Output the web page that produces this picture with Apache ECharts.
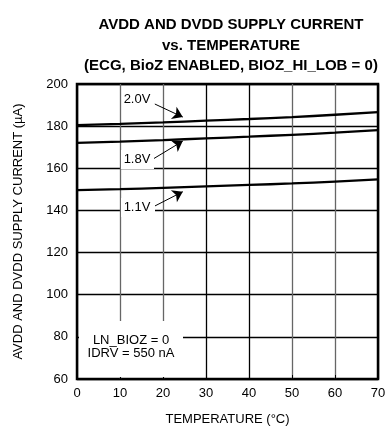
<!DOCTYPE html>
<html>
<head>
<meta charset="utf-8">
<script src="https://cdn.jsdelivr.net/npm/echarts@6/dist/echarts.min.js"></script>
<style>
  html, body { margin: 0; padding: 0; background: #fff; }
  #main { width: 390px; height: 432px; }
</style>
</head>
<body>
<div id="main"></div>
<script>
const temps = [0, 10, 20, 30, 40, 50, 60, 70];
const i20V = [180.5, 181.1, 181.8, 182.6, 183.4, 184.3, 185.4, 186.7];
const i18V = [172.1, 172.7, 173.4, 174.2, 175.0, 175.9, 176.9, 178.1];
const i11V = [149.6, 150.1, 150.7, 151.4, 152.1, 152.8, 153.7, 154.7];

const font = '"Liberation Sans Narrow", "Liberation Sans", Arial, sans-serif';
const chartElement = document.getElementById("main");
const myChart = echarts.init(chartElement);

function pairs(values) {
  return temps.map((t, i) => [t, values[i]]);
}

function lineSeries(name, values) {
  return {
    name: name,
    type: "line",
    data: pairs(values),
    symbol: "none",
    smooth: true,
    lineStyle: { color: "#000", width: 2.3 },
    z: 5,
  };
}

// arrows from the voltage labels to the curves (data coords)
const arrows = [
  [[18.1, 190.5], [24.6, 184.3]],
  [[17.7, 164.4], [24.6, 172.9]],
  [[18.1, 142.1], [24.6, 148.9]],
];

const option = {
  animation: false,
  backgroundColor: "#fff",
  title: {
    text: "AVDD AND DVDD SUPPLY CURRENT\nvs. TEMPERATURE\n(ECG, BioZ ENABLED, BIOZ_HI_LOB = 0)",
    left: 226,
    top: 10,
    textAlign: "center",
    textStyle: {
      fontFamily: font,
      fontSize: 15,
      fontWeight: "bold",
      color: "#000",
      lineHeight: 20.5,
    },
  },
  grid: {
    left: 77,
    right: 12,
    top: 84,
    bottom: 53,
    show: true,
    borderColor: "#000",
    borderWidth: 2.5,
    containLabel: false,
  },
  xAxis: {
    type: "value",
    min: 0,
    max: 70,
    interval: 10,
    name: "TEMPERATURE (°C)",
    nameLocation: "middle",
    nameGap: 34,
    nameTextStyle: { fontFamily: font, fontSize: 13, color: "#000" },
    axisLine: { show: false },
    axisTick: { show: true, inside: true, length: 4, lineStyle: { color: "#000" } },
    axisLabel: { fontFamily: font, fontSize: 13, color: "#000", margin: 8 },
    splitLine: {
      show: true,
      lineStyle: {
        color: ["#000", "#666", "#666", "#000", "#000", "#666", "#666", "#000"],
        width: 1.3,
      },
    },
  },
  yAxis: {
    type: "value",
    min: 60,
    max: 200,
    interval: 20,
    name: "AVDD AND DVDD SUPPLY CURRENT (µA)",
    nameLocation: "middle",
    nameGap: 52,
    nameTextStyle: { fontFamily: font, fontSize: 13, color: "#000" },
    axisLine: { show: false },
    axisTick: { show: false },
    axisLabel: { fontFamily: font, fontSize: 13, color: "#000", margin: 9 },
    splitLine: { show: true, lineStyle: { color: "#000", width: 1.3 } },
  },
  series: [
    Object.assign(lineSeries("2.0V", i20V), {
      markLine: {
        silent: true,
        symbol: ["none", "arrow"],
        symbolSize: 10,
        label: { show: false },
        lineStyle: { color: "#000", width: 1, type: "solid" },
        data: arrows.map((a) => [{ coord: a[0] }, { coord: a[1] }]),
        z: 6,
      },
    }),
    lineSeries("1.8V", i18V),
    lineSeries("1.1V", i11V),
  ],
  graphic: [
    // white patches behind the labels
    { type: "rect", shape: { x: 121, y: 150, width: 33, height: 19 }, style: { fill: "#fff" }, z: 10 },
    { type: "rect", shape: { x: 121, y: 198, width: 34, height: 19 }, style: { fill: "#fff" }, z: 10 },
    { type: "rect", shape: { x: 79, y: 321, width: 104, height: 56 }, style: { fill: "#fff" }, z: 10 },
    {
      type: "text", x: 137, y: 99, z: 11,
      style: { text: "2.0V", fontFamily: font, fontSize: 13, fill: "#000", align: "center", verticalAlign: "middle" },
    },
    {
      type: "text", x: 137, y: 159, z: 11,
      style: { text: "1.8V", fontFamily: font, fontSize: 13, fill: "#000", align: "center", verticalAlign: "middle" },
    },
    {
      type: "text", x: 137, y: 207, z: 11,
      style: { text: "1.1V", fontFamily: font, fontSize: 13, fill: "#000", align: "center", verticalAlign: "middle" },
    },
    {
      type: "text", x: 131, y: 347, z: 11,
      style: {
        text: "LN_BIOZ = 0\nIDRV = 550 nA",
        fontFamily: font, fontSize: 13, lineHeight: 13.5, fill: "#000",
        align: "center", verticalAlign: "middle",
      },
    },
  ],
};

myChart.setOption(option);
</script>
</body>
</html>
